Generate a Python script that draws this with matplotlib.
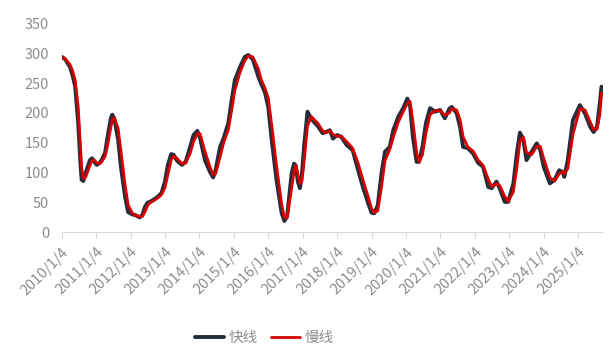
import matplotlib
matplotlib.use('Agg')
import matplotlib.pyplot as plt
import matplotlib.transforms as mtransforms

plt.rcParams['font.family'] = ['Noto Sans CJK SC', 'DejaVu Sans']

# time as decimal years
t = [2010.00, 2010.10, 2010.24, 2010.32, 2010.39, 2010.48, 2010.55, 2010.58, 2010.63, 2010.70,
     2010.82, 2010.88, 2010.95, 2011.02, 2011.10, 2011.16, 2011.26, 2011.35, 2011.43, 2011.47,
     2011.53, 2011.64, 2011.72, 2011.84, 2011.93, 2012.05, 2012.13, 2012.27, 2012.35, 2012.42,
     2012.50, 2012.56, 2012.70, 2012.80, 2012.90, 2013.00, 2013.08, 2013.18, 2013.25, 2013.35,
     2013.49, 2013.60, 2013.73, 2013.83, 2013.94, 2014.02, 2014.16, 2014.31, 2014.40, 2014.47,
     2014.60, 2014.70, 2014.84, 2014.94, 2015.03, 2015.18, 2015.32, 2015.42, 2015.55, 2015.71,
     2015.80, 2015.90, 2016.00, 2016.10, 2016.24, 2016.39, 2016.47, 2016.55, 2016.68, 2016.75,
     2016.80, 2016.86, 2016.92, 2016.98, 2017.05, 2017.14, 2017.25, 2017.45, 2017.58, 2017.68,
     2017.79, 2017.88, 2018.00, 2018.12, 2018.28, 2018.45, 2018.61, 2018.75, 2018.90, 2019.00,
     2019.08, 2019.18, 2019.29, 2019.39, 2019.53, 2019.63, 2019.78, 2019.92, 2020.04, 2020.12,
     2020.20, 2020.31, 2020.38, 2020.48, 2020.58, 2020.70, 2020.85, 2020.99, 2021.13, 2021.26,
     2021.33, 2021.47, 2021.57, 2021.66, 2021.80, 2021.95, 2022.10, 2022.24, 2022.39, 2022.49,
     2022.63, 2022.72, 2022.87, 2022.97, 2023.12, 2023.22, 2023.31, 2023.41, 2023.50, 2023.65,
     2023.80, 2023.90, 2024.00, 2024.18, 2024.32, 2024.45, 2024.55, 2024.60, 2024.70, 2024.85,
     2025.05, 2025.20, 2025.35, 2025.45, 2025.55, 2025.63, 2025.68]

fast = [294, 290, 277, 262, 245, 183, 110, 88, 86, 100,
        121, 124, 118, 113, 116, 121, 133, 166, 192, 197,
        190, 155, 110, 60, 34, 30, 29, 25, 30, 43,
        50, 51, 56, 60, 66, 85, 112, 131, 130, 120,
        113, 118, 143, 163, 170, 158, 121, 101, 92, 104,
        143, 157, 183, 222, 255, 277, 294, 297, 290, 261,
        248, 235, 210, 155, 88, 32, 19, 28, 99, 115,
        112, 85, 74, 99, 150, 202, 190, 177, 166, 168,
        171, 157, 163, 160, 146, 138, 104, 76, 49, 33,
        32, 45, 99, 135, 143, 171, 194, 208, 224, 212,
        160, 118, 118, 143, 183, 208, 202, 205, 191, 207,
        210, 200, 177, 143, 141, 132, 116, 110, 76, 74,
        85, 74, 51, 51, 82, 132, 167, 155, 121, 135,
        149, 138, 110, 82, 88, 104, 101, 93, 121, 188,
        213, 199, 177, 168, 177, 216, 244]

slow = [293, 291, 281, 270, 255, 210, 140, 108, 90, 93,
        112, 120, 121, 116, 115, 118, 127, 150, 177, 188,
        192, 174, 136, 80, 46, 32, 29, 26, 27, 35,
        45, 49, 54, 58, 63, 75, 96, 121, 128, 124,
        115, 116, 132, 152, 165, 165, 136, 109, 97, 98,
        126, 149, 172, 205, 238, 268, 288, 295, 294, 274,
        255, 242, 225, 180, 112, 47, 25, 24, 75, 102,
        112, 98, 82, 86, 124, 178, 194, 182, 170, 167,
        170, 164, 161, 161, 152, 141, 116, 88, 60, 40,
        33, 36, 76, 120, 139, 159, 185, 202, 216, 219,
        186, 134, 118, 130, 166, 197, 204, 204, 196, 200,
        207, 205, 189, 160, 143, 136, 121, 112, 89, 77,
        81, 79, 60, 52, 68, 108, 152, 160, 134, 130,
        144, 144, 124, 92, 86, 98, 102, 98, 107, 164,
        207, 205, 185, 172, 173, 196, 233]

years = list(range(2010, 2026))
year_labels = [f'{y}/1/4' for y in years]

fig = plt.figure(figsize=(6.15, 3.51), dpi=100)
ax = fig.add_axes([0.1003, 0.338, 0.880, 0.5955])

ax.plot(t, fast, color='#252d3a', lw=2.8, label='快线', solid_capstyle='round')
ax.plot(t, slow, color='#d60000', lw=2.0, label='慢线', solid_capstyle='round')

ax.set_xlim(2010.0, 2025.72)
ax.set_ylim(0, 350)
ax.set_yticks(range(0, 351, 50))
ax.set_xticks(years)
ax.set_xticklabels(year_labels, rotation=45, ha='right', va='top', rotation_mode='anchor')

# nudge the rotated labels a little left, like the original
shift = mtransforms.ScaledTranslation(-4 / 100, 0, fig.dpi_scale_trans)
for lbl in ax.get_xticklabels():
    lbl.set_transform(lbl.get_transform() + shift)

for s in ['top', 'right', 'left']:
    ax.spines[s].set_visible(False)
ax.spines['bottom'].set_color('#d9d9d9')
ax.tick_params(axis='y', length=0, pad=9, labelsize=10.5, labelcolor='#8c8c8c')
ax.tick_params(axis='x', length=4, color='#d9d9d9', pad=5, labelsize=10.5, labelcolor='#8c8c8c')

fig.legend(loc='center', bbox_to_anchor=(0.43, 0.037), ncol=2, frameon=False,
           fontsize=10.5, labelcolor='#8c8c8c', handlelength=2.0, columnspacing=0.9,
           handletextpad=0.3)

fig.savefig('out.png', dpi=100, facecolor='white')
